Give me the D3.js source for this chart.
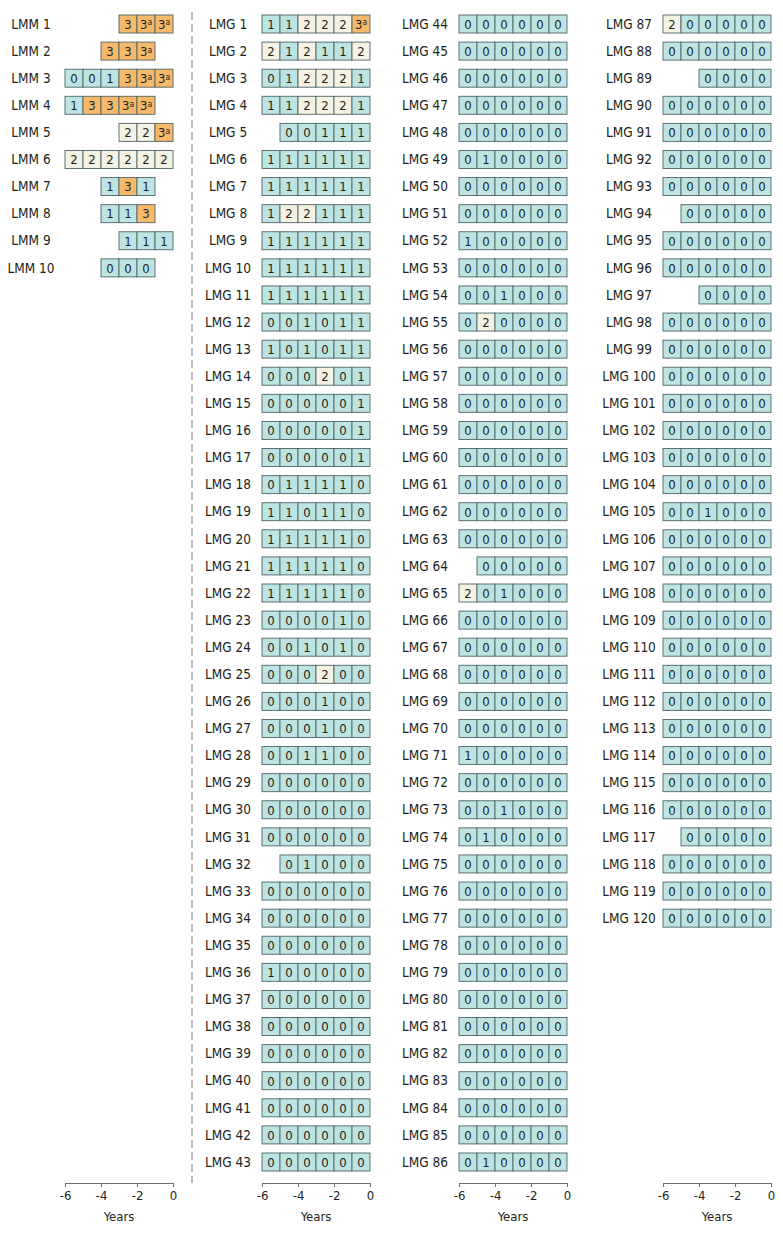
<!DOCTYPE html>
<html>
<head>
<meta charset="utf-8">
<script src="https://cdn.jsdelivr.net/npm/d3@7"></script>
<style>
  body { margin:0; background:#fff; }
  text { font-family:"DejaVu Sans Condensed","DejaVu Sans",sans-serif; fill:#231f20; }
  .axis path, .axis line { stroke:#6d6e71; }
  .axis text { font-size:13px; }
</style>
</head>
<body>
<div id="canvas"></div>
<script>
// years run from -6 to 0, one cell per year; "-" = no assessment
var years = [-6,-5,-4,-3,-2,-1];
var yearTicks = [-6,-4,-2,0];

var lmmRows = [
  '- - - 3 3a 3a',
  '- - 3 3 3a -',
  '0 0 1 3 3a 3a',
  '1 3 3 3a 3a -',
  '- - - 2 2 3a',
  '2 2 2 2 2 2',
  '- - 1 3 1 -',
  '- - 1 1 3 -',
  '- - - 1 1 1',
  '- - 0 0 0 -'
];

var lmgRowsA = [ // LMG 1 - 43
  '1 1 2 2 2 3a', '2 1 2 1 1 2', '0 1 2 2 2 1', '1 1 2 2 2 1', '- 0 0 1 1 1',
  '1 1 1 1 1 1', '1 1 1 1 1 1', '1 2 2 1 1 1', '1 1 1 1 1 1', '1 1 1 1 1 1',
  '1 1 1 1 1 1', '0 0 1 0 1 1', '1 0 1 0 1 1', '0 0 0 2 0 1', '0 0 0 0 0 1',
  '0 0 0 0 0 1', '0 0 0 0 0 1', '0 1 1 1 1 0', '1 1 0 1 1 0', '1 1 1 1 1 0',
  '1 1 1 1 1 0', '1 1 1 1 1 0', '0 0 0 0 1 0', '0 0 1 0 1 0', '0 0 0 2 0 0',
  '0 0 0 1 0 0', '0 0 0 1 0 0', '0 0 1 1 0 0', '0 0 0 0 0 0', '0 0 0 0 0 0',
  '0 0 0 0 0 0', '- 0 1 0 0 0', '0 0 0 0 0 0', '0 0 0 0 0 0', '0 0 0 0 0 0',
  '1 0 0 0 0 0', '0 0 0 0 0 0', '0 0 0 0 0 0', '0 0 0 0 0 0', '0 0 0 0 0 0',
  '0 0 0 0 0 0', '0 0 0 0 0 0', '0 0 0 0 0 0'
];

var lmgRowsB = [ // LMG 44 - 86
  '0 0 0 0 0 0', '0 0 0 0 0 0', '0 0 0 0 0 0', '0 0 0 0 0 0', '0 0 0 0 0 0',
  '0 1 0 0 0 0', '0 0 0 0 0 0', '0 0 0 0 0 0', '1 0 0 0 0 0', '0 0 0 0 0 0',
  '0 0 1 0 0 0', '0 2 0 0 0 0', '0 0 0 0 0 0', '0 0 0 0 0 0', '0 0 0 0 0 0',
  '0 0 0 0 0 0', '0 0 0 0 0 0', '0 0 0 0 0 0', '0 0 0 0 0 0', '0 0 0 0 0 0',
  '- 0 0 0 0 0', '2 0 1 0 0 0', '0 0 0 0 0 0', '0 0 0 0 0 0', '0 0 0 0 0 0',
  '0 0 0 0 0 0', '0 0 0 0 0 0', '1 0 0 0 0 0', '0 0 0 0 0 0', '0 0 1 0 0 0',
  '0 1 0 0 0 0', '0 0 0 0 0 0', '0 0 0 0 0 0', '0 0 0 0 0 0', '0 0 0 0 0 0',
  '0 0 0 0 0 0', '0 0 0 0 0 0', '0 0 0 0 0 0', '0 0 0 0 0 0', '0 0 0 0 0 0',
  '0 0 0 0 0 0', '0 0 0 0 0 0', '0 1 0 0 0 0'
];

var lmgRowsC = [ // LMG 87 - 120
  '2 0 0 0 0 0', '0 0 0 0 0 0', '- - 0 0 0 0', '0 0 0 0 0 0', '0 0 0 0 0 0',
  '0 0 0 0 0 0', '0 0 0 0 0 0', '- 0 0 0 0 0', '0 0 0 0 0 0', '0 0 0 0 0 0',
  '- - 0 0 0 0', '0 0 0 0 0 0', '0 0 0 0 0 0', '0 0 0 0 0 0', '0 0 0 0 0 0',
  '0 0 0 0 0 0', '0 0 0 0 0 0', '0 0 0 0 0 0', '0 0 1 0 0 0', '0 0 0 0 0 0',
  '0 0 0 0 0 0', '0 0 0 0 0 0', '0 0 0 0 0 0', '0 0 0 0 0 0', '0 0 0 0 0 0',
  '0 0 0 0 0 0', '0 0 0 0 0 0', '0 0 0 0 0 0', '0 0 0 0 0 0', '0 0 0 0 0 0',
  '- 0 0 0 0 0', '0 0 0 0 0 0', '0 0 0 0 0 0', '0 0 0 0 0 0'
];

var panels = [
  {prefix:'LMM ', first:1,  rows:lmmRows,  x0:65},
  {prefix:'LMG ', first:1,  rows:lmgRowsA, x0:262},
  {prefix:'LMG ', first:44, rows:lmgRowsB, x0:459},
  {prefix:'LMG ', first:87, rows:lmgRowsC, x0:663}
];

var colors = {'0':'#bde3e3','1':'#bde3e3','2':'#f4f2e3','3':'#f6b96a'};

var W = 783, H = 1235;
var svg = d3.select('#canvas').append('svg')
    .attr('width',W).attr('height',H);

var scaleY = d3.scaleLinear().domain([0,42]).range([24,1162]);
var cellH = 18, axisY = 1183;

panels.forEach(function(p){
  var scaleX = d3.scaleLinear().domain([-6,0]).range([p.x0, p.x0+108]);
  var g = svg.append('g');

  var row = g.selectAll('.row')
      .data(p.rows)
      .enter().append('g')
      .attr('class','row')
      .attr('transform',function(d,i){ return 'translate(0,'+scaleY(i)+')'; });

  row.append('text')
      .attr('x', p.x0 - 34)
      .attr('y', 0)
      .attr('dy','0.35em')
      .attr('text-anchor','middle')
      .style('font-size','13.5px')
      .text(function(d,i){ return p.prefix + (p.first + i); });

  var cell = row.selectAll('.cell')
      .data(function(d){
        return d.split(' ').map(function(v,j){ return {v:v, yr:years[j]}; })
          .filter(function(c){ return c.v !== '-'; });
      })
      .enter().append('g')
      .attr('class','cell');

  cell.append('rect')
      .attr('x',function(c){ return scaleX(c.yr); })
      .attr('y',-cellH/2)
      .attr('width',function(c){ return scaleX(c.yr+1)-scaleX(c.yr); })
      .attr('height',cellH)
      .attr('fill',function(c){ return colors[c.v.charAt(0)]; })
      .attr('stroke','#4f6466')
      .attr('stroke-width',0.9);

  var t = cell.append('text')
      .attr('x',function(c){ return (scaleX(c.yr)+scaleX(c.yr+1))/2; })
      .attr('y',0)
      .attr('dy','0.37em')
      .attr('text-anchor','middle')
      .style('font-size','13px');
  t.append('tspan').text(function(c){ return c.v.charAt(0); });
  t.filter(function(c){ return c.v.length > 1; })
      .append('tspan')
      .attr('dy','-0.4em')
      .style('font-size','8.5px')
      .text(function(c){ return c.v.slice(1); });

  var axis = d3.axisBottom(scaleX)
      .tickValues(yearTicks)
      .tickSize(4)
      .tickSizeOuter(0)
      .tickFormat(function(d){ return String(d); });

  var ax = svg.append('g')
      .attr('class','axis')
      .attr('transform','translate(0,'+axisY+')')
      .call(axis);
  ax.selectAll('text').attr('y',8).style('fill','#231f20');

  svg.append('text')
      .attr('x', p.x0 + 54)
      .attr('y', axisY + 38)
      .attr('text-anchor','middle')
      .style('font-size','13px')
      .text('Years');
});

// dashed divider between LMM and LMG
svg.append('line')
    .attr('x1',192).attr('x2',192)
    .attr('y1',12).attr('y2',1183)
    .attr('stroke','#a7a9ac')
    .attr('stroke-width',1.5)
    .attr('stroke-dasharray','8,4');
</script>
</body>
</html>
